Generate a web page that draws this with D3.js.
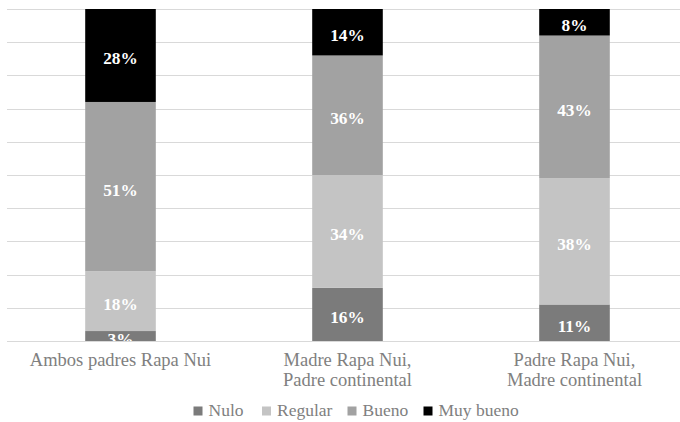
<!DOCTYPE html>
<html>
<head>
<meta charset="utf-8">
<script src="https://cdn.jsdelivr.net/npm/d3@7"></script>
<style>
  html, body { margin: 0; padding: 0; background: #fff; }
  svg { display: block; }
</style>
</head>
<body>
<svg id="chart" width="680" height="422"></svg>
<script>
// Categories (each entry is a list of label lines)
const categories = ["Ambos padres Rapa Nui", "Madre Rapa Nui, Padre continental", "Padre Rapa Nui, Madre continental"];
const categoryLines = [["Ambos padres Rapa Nui"], ["Madre Rapa Nui,", "Padre continental"], ["Padre Rapa Nui,", "Madre continental"]];

// Series values, in percent
const seriesNames = ["Nulo", "Regular", "Bueno", "Muy bueno"];
const nulo = [3, 16, 11];
const regular = [18, 34, 38];
const bueno = [51, 36, 43];
const muyBueno = [28, 14, 8];
const seriesColors = ["#7b7b7b", "#c4c4c4", "#a2a2a2", "#000000"];

const yTicks = [0, 10, 20, 30, 40, 50, 60, 70, 80, 90, 100];

const rows = categories.map((c, i) => ({
  cat: c,
  "Nulo": nulo[i],
  "Regular": regular[i],
  "Bueno": bueno[i],
  "Muy bueno": muyBueno[i]
}));

const svg = d3.select("#chart");
const W = 680, H = 422;
const plot = { left: 7, right: 688, top: 9, bottom: 341 };
const serif = "'Liberation Serif', 'Times New Roman', Times, serif";

const x = d3.scaleBand()
  .domain(categories)
  .range([plot.left, plot.right])
  .paddingInner(0.689)
  .paddingOuter(0.3445);

const y = d3.scaleLinear()
  .domain([0, 100])
  .range([plot.bottom, plot.top]);

const color = d3.scaleOrdinal().domain(seriesNames).range(seriesColors);

// Clip region for the plot area
svg.append("defs").append("clipPath").attr("id", "plotClip")
  .append("rect")
  .attr("x", plot.left).attr("y", plot.top)
  .attr("width", W - plot.left).attr("height", plot.bottom - plot.top);

// Horizontal gridlines
svg.append("g")
  .selectAll("line")
  .data(yTicks)
  .join("line")
  .attr("x1", plot.left)
  .attr("x2", W)
  .attr("y1", d => Math.round(y(d)) + 0.5)
  .attr("y2", d => Math.round(y(d)) + 0.5)
  .attr("stroke", "#d9d9d9")
  .attr("stroke-width", 1);

const stacked = d3.stack().keys(seriesNames)(rows);

const bars = svg.append("g").attr("clip-path", "url(#plotClip)");

// Stacked segments
bars.selectAll("g.series")
  .data(stacked)
  .join("g")
  .attr("class", "series")
  .attr("fill", d => color(d.key))
  .selectAll("rect")
  .data(d => d)
  .join("rect")
  .attr("x", d => x(d.data.cat))
  .attr("width", x.bandwidth())
  .attr("y", d => y(d[1]))
  .attr("height", d => y(d[0]) - y(d[1]));

// Value labels centred in each segment
bars.selectAll("g.labels")
  .data(stacked)
  .join("g")
  .attr("class", "labels")
  .selectAll("text")
  .data(d => d)
  .join("text")
  .attr("x", d => x(d.data.cat) + x.bandwidth() / 2)
  .attr("y", d => (y(d[0]) + y(d[1])) / 2 + 9)
  .attr("text-anchor", "middle")
  .attr("fill", "#ffffff")
  .attr("font-family", serif)
  .attr("font-weight", "bold")
  .attr("font-size", "17.3px")
  .text(d => (d[1] - d[0]) + "%");

// Category axis labels
const xLabels = svg.append("g")
  .attr("font-family", serif)
  .attr("font-size", "18.5px")
  .attr("fill", "#808080")
  .attr("text-anchor", "middle");

categories.forEach((c, i) => {
  const t = xLabels.append("text")
    .attr("x", x(c) + x.bandwidth() / 2)
    .attr("y", 366);
  categoryLines[i].forEach((line, j) => {
    t.append("tspan")
      .attr("x", x(c) + x.bandwidth() / 2)
      .attr("dy", j === 0 ? 0 : 19.5)
      .text(line);
  });
});

// Legend
const legendX = [193.5, 262, 347.5, 423.5];
const legend = svg.append("g")
  .attr("font-family", serif)
  .attr("font-size", "17.5px")
  .attr("fill", "#808080");

seriesNames.forEach((s, i) => {
  legend.append("rect")
    .attr("x", legendX[i])
    .attr("y", 406.5)
    .attr("width", 9)
    .attr("height", 9)
    .attr("fill", color(s));
  legend.append("text")
    .attr("x", legendX[i] + 15)
    .attr("y", 415.5)
    .text(s);
});
</script>
</body>
</html>
